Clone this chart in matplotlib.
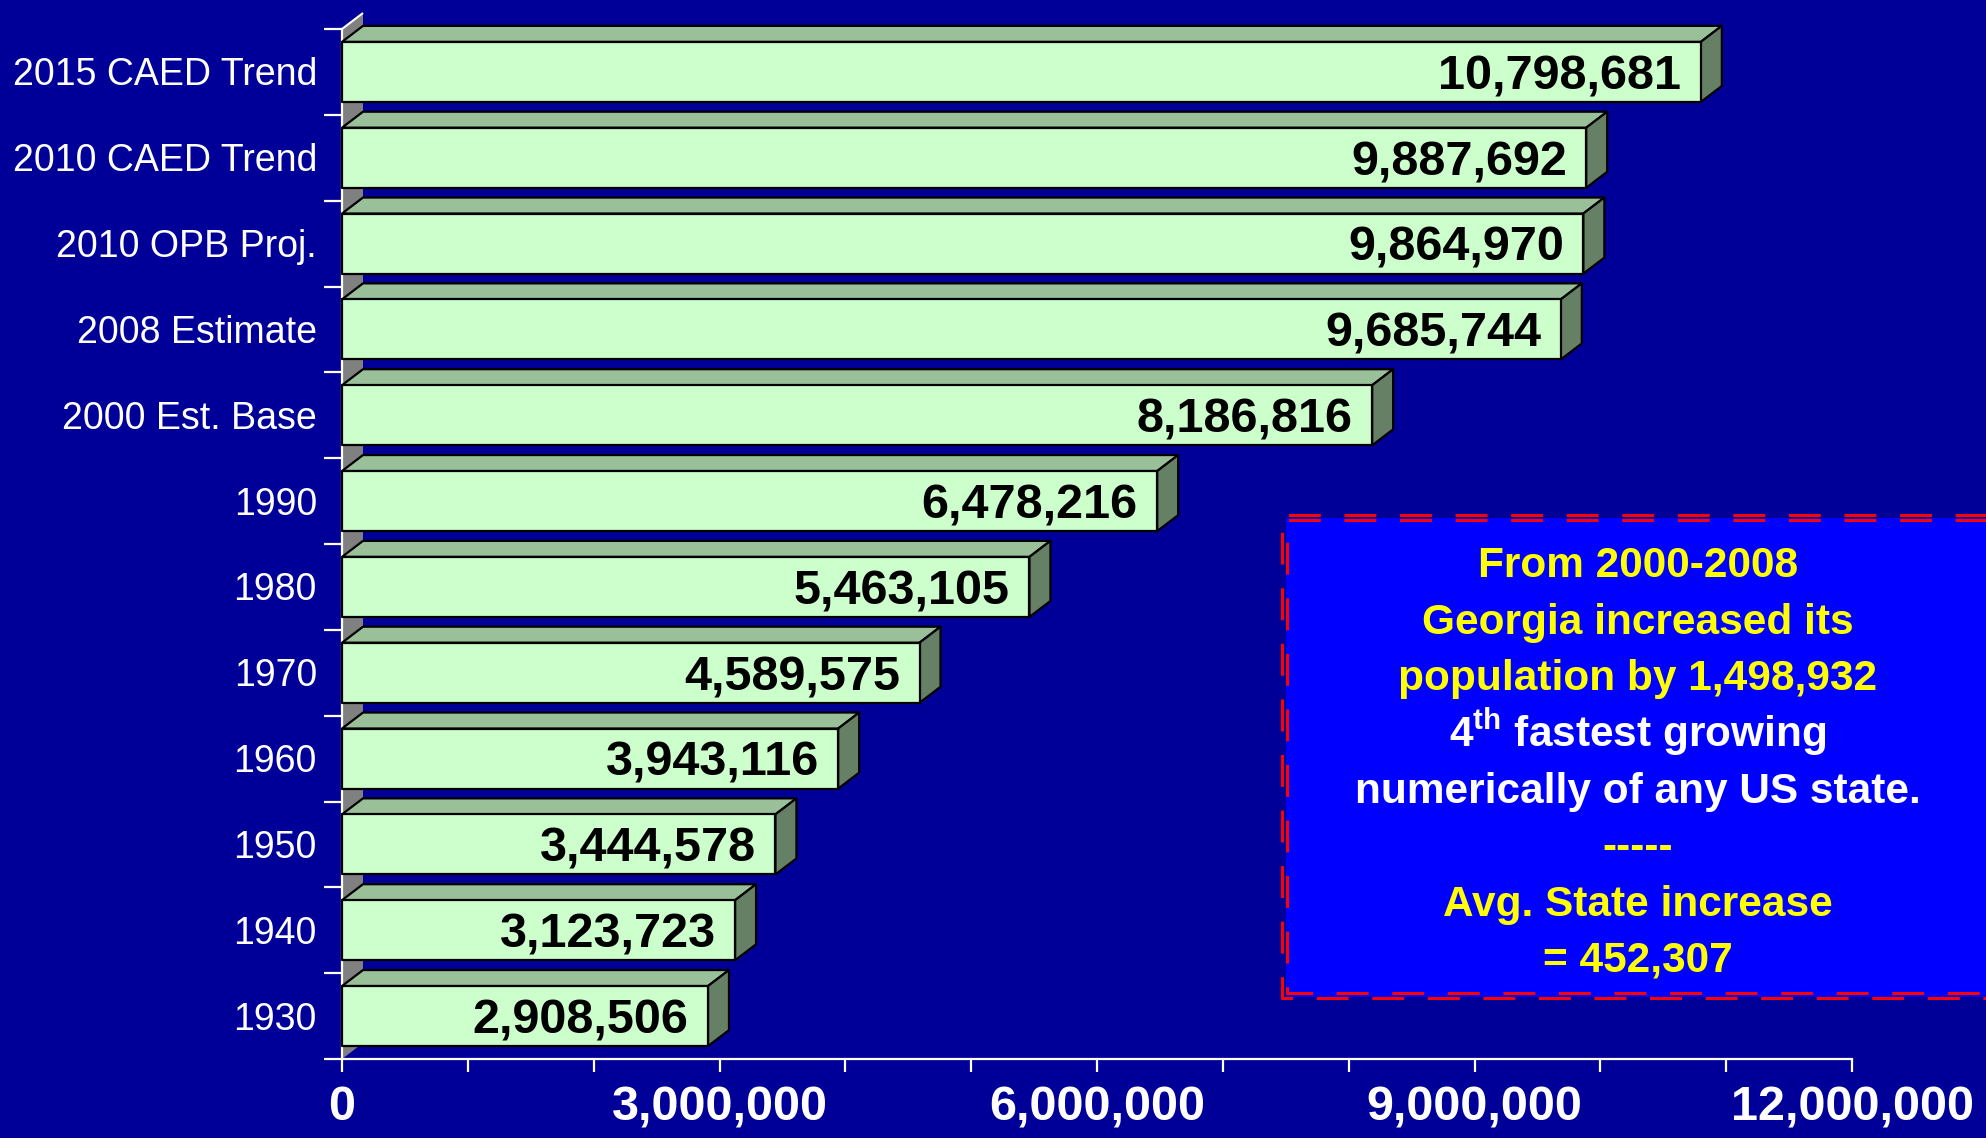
import matplotlib
matplotlib.use("Agg")
import matplotlib.pyplot as plt
import matplotlib.font_manager as fm
from matplotlib.patches import Rectangle, Polygon
from matplotlib.lines import Line2D
import numpy as np

# ---------------- data ----------------
categories = ['1930', '1940', '1950', '1960', '1970', '1980', '1990',
              '2000 Est. Base', '2008 Estimate', '2010 OPB Proj.',
              '2010 CAED Trend', '2015 CAED Trend']
values = [2908506, 3123723, 3444578, 3943116, 4589575, 5463105, 6478216,
          8186816, 9685744, 9864970, 9887692, 10798681]
x_major = [0, 3000000, 6000000, 9000000, 12000000]
x_major_labels = ['0', '3,000,000', '6,000,000', '9,000,000', '12,000,000']
box_lines = ['From 2000-2008', 'Georgia increased its', 'population by 1,498,932',
             r'4$^{\mathrm{th}}$ fastest growing', 'numerically of any US state.',
             '-----', 'Avg. State increase', '= 452,307']
box_colors = ['#FFFF00', '#FFFF00', '#FFFF00', '#FFFFFF', '#FFFFFF',
              '#FFFF00', '#FFFF00', '#FFFF00']

# ---------------- style ----------------
BG = '#000099'
FRONT = '#CCFFCC'
TOP = '#99C099'
SIDE = '#668066'
WALL = '#808080'

avail = {f.name for f in fm.fontManager.ttflist}
if 'Liberation Sans Narrow' in avail:
    ylab_font, ylab_size = 'Liberation Sans Narrow', 33
else:
    ylab_font, ylab_size = 'Liberation Sans', 27

plt.rcParams['lines.scale_dashes'] = False
plt.rcParams['mathtext.fontset'] = 'custom'
plt.rcParams['mathtext.rm'] = 'Liberation Sans:bold'
plt.rcParams['mathtext.bf'] = 'Liberation Sans:bold'

W, H = 1986, 1138
fig = plt.figure(figsize=(W / 100, H / 100), dpi=100, facecolor=BG)

ax_left, ax_right, ax_top, ax_bot = 342, 1852, 29, 1059
ax = fig.add_axes([ax_left / W, 1 - ax_bot / H, (ax_right - ax_left) / W, (ax_bot - ax_top) / H])
ax.set_facecolor('none')
n = len(categories)
xmax = 12000000
ax.set_xlim(0, xmax)
ax.set_ylim(-0.5, n - 0.5)

px_x = xmax / (ax_right - ax_left)
px_y = n / (ax_bot - ax_top)
dx = 21 * px_x
dy = 16 * px_y
h = 0.70

# back wall (3D)
wall = Polygon([(0, -0.5), (dx, -0.5 + dy), (dx, n - 0.5 + dy), (0, n - 0.5)],
               closed=True, facecolor=WALL, edgecolor='none', zorder=1, clip_on=False)
ax.add_patch(wall)
ax.plot([0, dx], [n - 0.5, n - 0.5 + dy], color='white', lw=1.5, zorder=2,
        clip_on=False, solid_capstyle='butt')

for i, (cat, v) in enumerate(zip(categories, values)):
    y0, y1 = i - h / 2, i + h / 2
    top = Polygon([(0, y1), (v, y1), (v + dx, y1 + dy), (dx, y1 + dy)], closed=True,
                  facecolor=TOP, edgecolor='black', lw=1.6, zorder=3 + i * 0.01,
                  clip_on=False, joinstyle='round')
    side = Polygon([(v, y0), (v + dx, y0 + dy), (v + dx, y1 + dy), (v, y1)], closed=True,
                   facecolor=SIDE, edgecolor='black', lw=1.6, zorder=3 + i * 0.01,
                   clip_on=False, joinstyle='round')
    front = Rectangle((0, y0), v, h, facecolor=FRONT, edgecolor='black', lw=1.6,
                      zorder=3.5 + i * 0.01, clip_on=False, joinstyle='round')
    ax.add_patch(top)
    ax.add_patch(side)
    ax.add_patch(front)
    ax.annotate(f'{v:,}', xy=(v, i), xytext=(-14, -12.5), textcoords='offset points',
                ha='right', va='baseline', fontsize=35, fontweight='bold',
                family='Liberation Sans', color='black', zorder=6)
    ax.annotate(cat, xy=(0, i), xytext=(-18, -ylab_size * 0.716 / 2),
                textcoords='offset points', ha='right', va='baseline',
                fontsize=ylab_size, family=ylab_font, color='white',
                annotation_clip=False)

# spines and ticks
for s in ['top', 'right']:
    ax.spines[s].set_visible(False)
for s in ['left', 'bottom']:
    ax.spines[s].set_color('white')
    ax.spines[s].set_linewidth(1.6)
    ax.spines[s].set_zorder(2.5)

ax.set_yticks(np.arange(-0.5, n, 1.0))
ax.set_yticklabels([])
ax.tick_params(axis='y', which='major', direction='out', length=13, width=1.6,
               color='white')

ax.set_xticks(x_major)
ax.set_xticklabels(x_major_labels, fontsize=35, fontweight='bold',
                   family='Liberation Sans', color='white')
ax.set_xticks(np.arange(0, xmax + 1, 1000000), minor=True)
ax.tick_params(axis='x', which='both', direction='out', length=9, width=1.6,
               color='white', pad=10)

# ---------------- annotation box ----------------
bx0, by0, by1 = 1286, 518, 997
fig.add_artist(Rectangle((bx0 / W, 1 - by1 / H), (2000 - bx0) / W, (by1 - by0) / H,
                         transform=fig.transFigure, facecolor='#0000FF',
                         edgecolor='none', zorder=5))
for (lx, ty, byy) in [(1282, 515, 998), (1287, 520, 993)]:
    xs = [2010, lx, lx, 2010]
    ys = [ty, ty, byy, byy]
    fig.add_artist(Line2D([x / W for x in xs], [1 - y / H for y in ys],
                          transform=fig.transFigure, color='#FF0000', lw=2.2,
                          linestyle=(0, (23, 17)), zorder=6))

line_centers = [562, 619, 675, 732, 788, 844, 901, 956]
cx = 1638
for txt, col, yc in zip(box_lines, box_colors, line_centers):
    fig.text(cx / W, 1 - (yc + 15) / H, txt, ha='center', va='baseline',
             fontsize=30.5, fontweight='bold', family='Liberation Sans',
             color=col, zorder=7)

fig.savefig('out.png', dpi=100, facecolor=BG)
